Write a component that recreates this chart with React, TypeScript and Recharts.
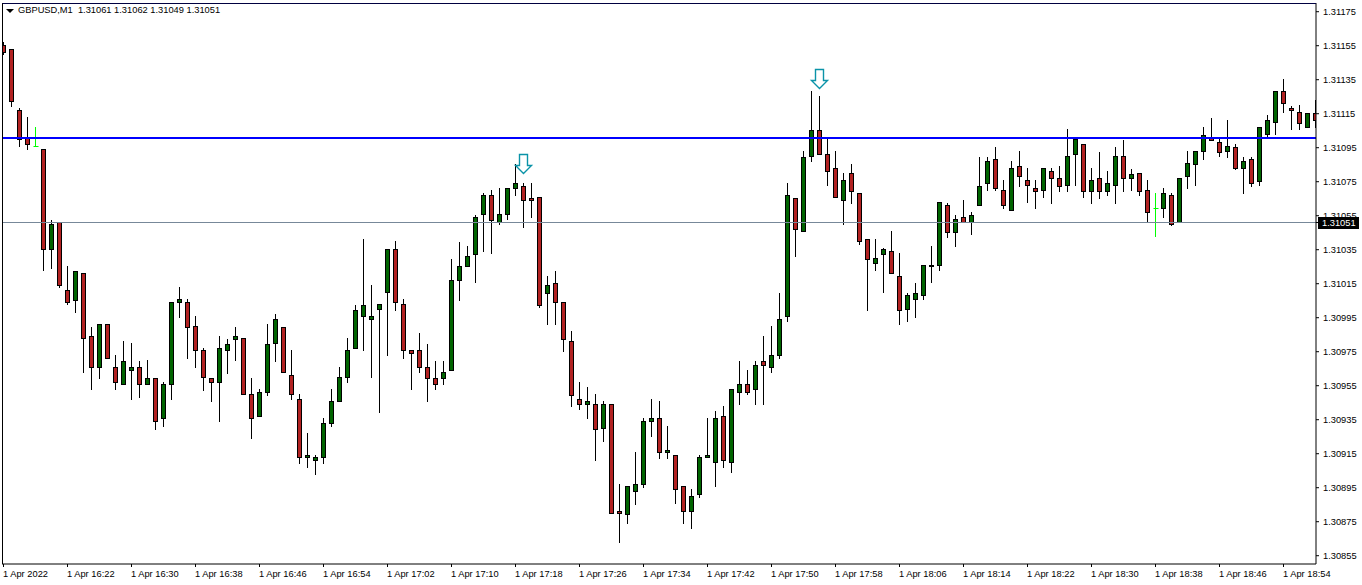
import React from "react";
import { ComposedChart, Bar, Scatter, XAxis, YAxis, ReferenceLine } from "recharts";

const opens = [
  1.31155,1.31153,1.31117,1.31101,1.31096,1.31094,1.31035,1.31051,1.31011,1.31005,
  1.31021,1.30984,1.30966,1.30991,1.30966,1.30956,1.30964,1.30966,1.30956,1.30959,
  1.30936,1.30956,1.31004,1.31004,1.30990,1.30976,1.30959,1.30957,1.30976,1.30982,
  1.30983,1.30950,1.30937,1.30951,1.30980,1.30989,1.30961,1.30947,1.30913,1.30911,
  1.30913,1.30933,1.30946,1.30960,1.30977,1.30996,1.30994,1.31000,1.31010,1.31035,
  1.31003,1.30976,1.30976,1.30966,1.30959,1.30959,1.30964,1.31017,1.31025,1.31032,
  1.31056,1.31067,1.31051,1.31056,1.31071,1.31072,1.31065,1.31066,1.31009,1.31015,
  1.31004,1.30981,1.30947,1.30944,1.30944,1.30930,1.30944,1.30881,1.30879,1.30893,
  1.30897,1.30934,1.30936,1.30916,1.30914,1.30896,1.30881,1.30891,1.30913,1.30910,
  1.30937,1.30910,1.30951,1.30956,1.30953,1.30969,1.30966,1.30973,1.30996,1.31065,
  1.31046,1.31090,1.31105,1.31091,1.31083,1.31064,1.31080,1.31068,1.31041,1.31027,
  1.31032,1.31034,1.31019,1.31000,1.31006,1.31008,1.31025,1.31026,1.31061,1.31045,
  1.31054,1.31051,1.31061,1.31074,1.31088,1.31070,1.31058,1.31084,1.31076,1.31071,
  1.31070,1.31081,1.31077,1.31073,1.31091,1.31097,1.31069,1.31077,1.31069,1.31073,
  1.31090,1.31077,1.31080,1.31070,1.31059,1.31059,1.31067,1.31051,1.31078,1.31085,
  1.31093,1.31101,1.31098,1.31093,1.31095,1.31083,1.31088,1.31075,1.31103,1.31110,
  1.31128,1.31118,1.31116,1.31107,1.31115,
];
const highs = [
  1.31157,1.31153,1.31118,1.31113,1.31107,1.31094,1.31052,1.31051,1.31025,1.31022,
  1.31021,1.30989,1.30991,1.30991,1.30973,1.30981,1.30980,1.30969,1.30970,1.30959,
  1.30957,1.31004,1.31013,1.31006,1.30996,1.30977,1.30959,1.30984,1.30982,1.30989,
  1.30983,1.30959,1.30953,1.30991,1.30997,1.30989,1.30976,1.30950,1.30927,1.30914,
  1.30936,1.30953,1.30966,1.30983,1.31002,1.31041,1.31014,1.31003,1.31035,1.31040,
  1.31006,1.30976,1.30986,1.30979,1.30969,1.30969,1.31029,1.31039,1.31037,1.31055,
  1.31068,1.31070,1.31071,1.31071,1.31085,1.31074,1.31074,1.31066,1.31019,1.31022,
  1.31004,1.30987,1.30957,1.30954,1.30950,1.30946,1.30944,1.30897,1.30896,1.30916,
  1.30936,1.30947,1.30946,1.30931,1.30914,1.30896,1.30894,1.30914,1.30936,1.30940,
  1.30943,1.30953,1.30969,1.30964,1.30969,1.30984,1.30990,1.31009,1.31074,1.31065,
  1.31093,1.31128,1.31125,1.31101,1.31093,1.31080,1.31085,1.31068,1.31041,1.31041,
  1.31036,1.31046,1.31033,1.31009,1.31015,1.31026,1.31037,1.31063,1.31062,1.31055,
  1.31064,1.31057,1.31089,1.31089,1.31095,1.31076,1.31087,1.31093,1.31083,1.31076,
  1.31083,1.31083,1.31084,1.31106,1.31100,1.31097,1.31083,1.31092,1.31081,1.31095,
  1.31099,1.31082,1.31080,1.31076,1.31068,1.31071,1.31068,1.31077,1.31093,1.31093,
  1.31107,1.31112,1.31100,1.31111,1.31097,1.31089,1.31089,1.31107,1.31114,1.31128,
  1.31135,1.31119,1.31120,1.31115,1.31123,
];
const lows = [
  1.31150,1.31119,1.31096,1.31094,1.31096,1.31023,1.31024,1.31013,1.31003,1.30998,
  1.30963,1.30953,1.30959,1.30971,1.30953,1.30956,1.30947,1.30948,1.30956,1.30929,
  1.30931,1.30947,1.30995,1.30971,1.30966,1.30952,1.30946,1.30934,1.30962,1.30970,
  1.30950,1.30924,1.30937,1.30949,1.30969,1.30963,1.30947,1.30909,1.30907,1.30903,
  1.30909,1.30931,1.30946,1.30957,1.30977,1.30976,1.30960,1.30939,1.30973,1.30999,
  1.30971,1.30953,1.30963,1.30946,1.30953,1.30956,1.30964,1.31005,1.31025,1.31016,
  1.31034,1.31033,1.31050,1.31053,1.31067,1.31048,1.31054,1.31001,1.30991,1.30991,
  1.30975,1.30943,1.30941,1.30936,1.30911,1.30922,1.30880,1.30863,1.30874,1.30885,
  1.30895,1.30925,1.30912,1.30912,1.30886,1.30874,1.30871,1.30889,1.30913,1.30896,
  1.30907,1.30904,1.30944,1.30950,1.30944,1.30944,1.30963,1.30971,1.30993,1.31031,
  1.31046,1.31087,1.31091,1.31073,1.31066,1.31050,1.31062,1.31038,1.30999,1.31023,
  1.31010,1.31021,1.30991,1.30993,1.30995,1.31006,1.31016,1.31023,1.31042,1.31037,
  1.31051,1.31044,1.31061,1.31070,1.31070,1.31059,1.31058,1.31072,1.31063,1.31059,
  1.31066,1.31062,1.31069,1.31069,1.31073,1.31066,1.31062,1.31065,1.31067,1.31062,
  1.31069,1.31070,1.31067,1.31051,1.31043,1.31054,1.31049,1.31051,1.31071,1.31073,
  1.31088,1.31099,1.31090,1.31089,1.31082,1.31068,1.31072,1.31073,1.31101,1.31103,
  1.31116,1.31106,1.31106,1.31107,1.31107,
];
const closes = [
  1.31151,1.31122,1.31100,1.31097,1.31096,1.31035,1.31050,1.31014,1.31004,1.31022,
  1.30983,1.30966,1.30991,1.30971,1.30957,1.30969,1.30966,1.30956,1.30959,1.30934,
  1.30956,1.31004,1.31006,1.30989,1.30976,1.30960,1.30957,1.30977,1.30979,1.30984,
  1.30950,1.30936,1.30951,1.30979,1.30994,1.30963,1.30950,1.30913,1.30914,1.30913,
  1.30933,1.30946,1.30960,1.30976,1.30999,1.31002,1.30996,1.31003,1.31035,1.31004,
  1.30976,1.30974,1.30966,1.30959,1.30956,1.30963,1.31017,1.31025,1.31031,1.31054,
  1.31067,1.31052,1.31056,1.31071,1.31074,1.31064,1.31064,1.31002,1.31014,1.31004,
  1.30982,1.30949,1.30944,1.30946,1.30929,1.30944,1.30880,1.30880,1.30896,1.30897,
  1.30934,1.30936,1.30916,1.30917,1.30894,1.30881,1.30890,1.30913,1.30914,1.30936,
  1.30911,1.30953,1.30956,1.30951,1.30967,1.30967,1.30973,1.30994,1.31067,1.31047,
  1.31089,1.31105,1.31091,1.31081,1.31066,1.31076,1.31069,1.31040,1.31029,1.31030,
  1.31035,1.31021,1.30999,1.31008,1.31009,1.31026,1.31026,1.31063,1.31045,1.31053,
  1.31051,1.31055,1.31072,1.31087,1.31071,1.31061,1.31083,1.31078,1.31073,1.31069,
  1.31083,1.31077,1.31072,1.31090,1.31100,1.31069,1.31076,1.31069,1.31074,1.31090,
  1.31077,1.31079,1.31069,1.31057,1.31059,1.31068,1.31050,1.31077,1.31086,1.31093,
  1.31102,1.31099,1.31092,1.31096,1.31083,1.31087,1.31074,1.31107,1.31111,1.31128,
  1.31121,1.31117,1.31109,1.31115,1.31111,
];

const timeTicks = [0,8,16,24,32,40,48,56,64,72,80,88,96,104,112,120,128,136,144,152,160];
const timeLabels = [
  "1 Apr 2022","1 Apr 16:22","1 Apr 16:30","1 Apr 16:38","1 Apr 16:46","1 Apr 16:54","1 Apr 17:02",
  "1 Apr 17:10","1 Apr 17:18","1 Apr 17:26","1 Apr 17:34","1 Apr 17:42","1 Apr 17:50","1 Apr 17:58",
  "1 Apr 18:06","1 Apr 18:14","1 Apr 18:22","1 Apr 18:30","1 Apr 18:38","1 Apr 18:46","1 Apr 18:54",
];
const priceTicks = [
  1.31175,1.31155,1.31135,1.31115,1.31095,1.31075,1.31055,1.31035,1.31015,
  1.30995,1.30975,1.30955,1.30935,1.30915,1.30895,1.30875,1.30855,
];
const bidPrice = 1.31051;
const resistance = 1.311007;
const arrowPoints = [
  { i: 64.99, price: 1.31086 },
  { i: 101.99, price: 1.31136 },
];
const title = "GBPUSD,M1  1.31061 1.31062 1.31049 1.31051";

const table = opens.map((open, i) => ({
  i,
  open,
  high: highs[i],
  low: lows[i],
  close: closes[i],
  range: [lows[i], highs[i]],
}));

const FONT = "'Liberation Sans', Arial, sans-serif";

function Candle(props: any) {
  const { x, y, width, height, payload } = props;
  const { open, high, low, close } = payload;
  const top = Math.min(y, y + height);
  const h = Math.abs(height);
  const yOf = (p: number) => top + ((high - p) / (high - low)) * h;
  const snap = (v: number) => Math.floor(v) + 0.5;
  const cx = Math.floor(x + width / 2) + 0.5;
  const hi = snap(yOf(high));
  const lo = snap(yOf(low));
  if (open === close) {
    const m = snap(yOf(open));
    return (
      <g>
        <line x1={cx} x2={cx} y1={hi - 0.5} y2={lo + 0.5} stroke="#00ff00" />
        <line x1={cx - 2} x2={cx + 3} y1={m} y2={m} stroke="#00ff00" strokeWidth={1} />
      </g>
    );
  }
  const a = snap(yOf(Math.max(open, close)));
  const b = snap(yOf(Math.min(open, close)));
  const fill = close > open ? "#006400" : "#b22222";
  return (
    <g>
      <line x1={cx} x2={cx} y1={hi - 0.5} y2={lo + 0.5} stroke="#000" />
      <rect x={cx - 2} y={a} width={4} height={Math.max(b - a, 1)} fill={fill} stroke="#000" />
    </g>
  );
}

function Arrow(props: any) {
  const { cx, cy } = props;
  const c = Math.round(cx) + 0.5;
  const t = Math.round(cy) - 9 + 0.5;
  const d = `M${c - 4} ${t} H${c + 4} V${t + 11} H${c + 8} L${c} ${t + 19} L${c - 8} ${t + 11} H${c - 4} Z`;
  return <path d={d} fill="#fff" stroke="#0a93a8" strokeWidth={1.4} />;
}

function TimeTick(props: any) {
  const { x, y, payload } = props;
  const idx = timeTicks.indexOf(payload.value);
  return (
    <text x={x - 0.5} y={y + 8} fontSize={9.3} fontFamily={FONT} fill="#000" textAnchor="start">
      {timeLabels[idx]}
    </text>
  );
}

function PriceTick(props: any) {
  const { x, y, payload } = props;
  const v = payload.value;
  if (v === bidPrice) {
    return (
      <g>
        <rect x={1318} y={217} width={41} height={12} fill="#000" />
        <text x={1322} y={y + 3.5} fontSize={9.3} fontFamily={FONT} fill="#fff">
          {v.toFixed(5)}
        </text>
      </g>
    );
  }
  return (
    <text x={x + 2} y={y + 3.5} fontSize={9.3} fontFamily={FONT} fill="#000">
      {v.toFixed(5)}
    </text>
  );
}

export default function App() {
  return (
    <div style={{ position: "absolute", left: 0, top: 0, width: 1362, height: 585, background: "#fff", overflow: "hidden" }}>
      <ComposedChart
        width={1362}
        height={585}
        data={table}
        margin={{ top: 3, right: 0, bottom: 0, left: 2 }}
      >
        <XAxis
          dataKey="i"
          type="number"
          domain={[-0.1875, 164.0625]}
          allowDataOverflow
          ticks={timeTicks}
          interval={0}
          height={21}
          axisLine={{ stroke: "#000" }}
          tickLine={{ stroke: "#000" }}
          tickSize={3}
          tick={<TimeTick />}
        />
        <YAxis
          orientation="right"
          type="number"
          domain={[1.3085012, 1.3118012]}
          allowDataOverflow
          ticks={[...priceTicks, bidPrice]}
          interval={0}
          width={46}
          axisLine={{ stroke: "#000" }}
          tickLine={{ stroke: "#000" }}
          tickSize={3}
          tick={<PriceTick />}
        />
        <ReferenceLine y={bidPrice} stroke="#778899" strokeWidth={1} />
        <ReferenceLine y={resistance} stroke="#0000ff" strokeWidth={2} />
        <Bar dataKey="range" barSize={5} shape={<Candle />} isAnimationActive={false} />
        <Scatter data={arrowPoints} dataKey="price" shape={<Arrow />} isAnimationActive={false} />
      </ComposedChart>
      <div style={{ position: "absolute", left: 2, top: 3, width: 1314, height: 561, borderTop: "1px solid #000040", borderLeft: "1px solid #000", boxSizing: "border-box", pointerEvents: "none" }} />
      <div style={{ position: "absolute", left: 6, top: 9, width: 0, height: 0, borderLeft: "4px solid transparent", borderRight: "4px solid transparent", borderTop: "4px solid #000" }} />
      <div style={{ position: "absolute", left: 18, top: 4, font: `9.3px ${FONT}`, lineHeight: "13px", color: "#000", whiteSpace: "pre" }}>
        {title}
      </div>
    </div>
  );
}
